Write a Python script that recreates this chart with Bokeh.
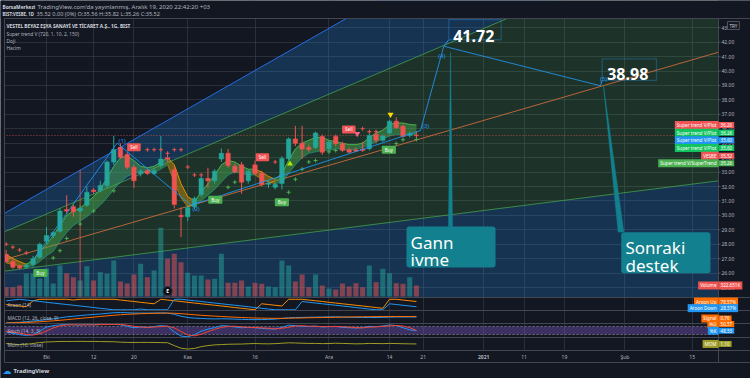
from bokeh.plotting import figure
from bokeh.models import Range1d, FixedTicker, Label, BoxAnnotation, ColumnDataSource
from bokeh.embed import file_html
from bokeh.resources import INLINE

BG = "#131722"
GRID = "#363A45"
BORDER = "#434651"
TXT = "#B2B5BE"
UP = "#26A69A"
DN = "#EF5350"
TEAL = "#12808E"
FONT = "Noto Sans"

# ---------------- data ----------------
bars = list(range(-6, 56))
opens = [27.30, 26.80, 26.50, 26.40, 26.60, 27.10,
         28.20, 28.60, 28.90, 30.40, 30.60, 30.30, 30.70, 31.75, 31.72, 32.07,
         33.69, 34.73, 34.22, 33.34, 32.88, 33.10, 32.90, 33.46, 34.00, 33.16,
         30.00, 29.90, 30.60, 31.44, 32.56, 32.40, 33.90, 34.30, 33.40, 33.50,
         32.40, 33.50, 32.90, 32.15, 31.95, 32.20, 33.94, 35.30, 35.00, 34.70,
         34.70, 35.47, 34.62, 35.47, 34.97, 34.55, 34.55, 34.60, 34.62, 35.60,
         35.20, 35.70, 36.53, 36.17, 35.54, 35.56]
highs = [27.60, 26.95, 26.60, 26.70, 27.20, 28.10,
         29.20, 28.90, 30.50, 31.40, 30.80, 30.70, 32.00, 31.90, 32.40, 33.80,
         35.50, 35.00, 34.40, 33.50, 33.20, 33.20, 33.30, 35.50, 34.20, 33.40,
         30.56, 30.70, 31.30, 32.70, 33.30, 33.20, 34.64, 34.60, 33.60, 33.70,
         33.20, 33.80, 33.10, 32.40, 32.30, 34.10, 35.40, 36.20, 36.20, 34.90,
         35.80, 35.60, 35.20, 35.60, 35.10, 34.70, 34.70, 35.10, 35.70, 35.80,
         35.60, 36.60, 36.80, 36.30, 35.80, 35.82]
lows = [26.70, 26.30, 26.25, 26.30, 26.45, 27.00,
        28.00, 28.40, 28.80, 30.10, 29.90, 30.20, 30.60, 31.50, 31.60, 31.90,
        33.50, 33.90, 33.20, 31.90, 32.70, 32.80, 32.80, 33.30, 33.70, 30.47,
        28.50, 29.60, 30.40, 31.30, 31.90, 32.20, 33.70, 33.30, 32.90, 31.50,
        32.20, 32.80, 32.00, 31.90, 31.80, 31.80, 33.80, 34.80, 33.90, 34.40,
        34.60, 34.20, 34.50, 34.80, 34.40, 34.30, 34.40, 34.40, 34.50, 35.00,
        35.10, 35.60, 36.00, 35.40, 35.40, 35.26]
closes = [26.80, 26.40, 26.35, 26.55, 27.00, 28.00,
          28.60, 28.80, 30.30, 30.30, 30.25, 30.50, 31.60, 31.65, 32.07, 33.70,
          34.57, 34.03, 33.34, 32.40, 33.06, 32.90, 33.10, 33.90, 33.90, 30.75,
          29.90, 30.54, 31.17, 32.56, 32.40, 33.06, 34.30, 33.46, 33.00, 32.30,
          33.06, 32.90, 32.14, 32.25, 32.14, 33.94, 35.30, 34.99, 34.60, 34.57,
          35.70, 34.38, 35.08, 34.97, 34.50, 34.38, 34.45, 34.50, 35.54, 35.20,
          35.50, 36.53, 36.07, 35.47, 35.66, 35.52]
volumes_k = [272, 272, 322, 674, 674, 527,
             820, 381, 908, 683, 565, 469, 888, 469, 712, 665,
             1055, 440, 381, 645, 958, 565, 762, 2013, 1105, 1251,
             1005, 694, 615, 615, 498, 519, 1251, 401, 401, 469,
             293, 401, 372, 293, 272, 1055, 908, 440, 645, 272,
             645, 322, 234, 205, 381, 293, 390, 272, 908, 419,
             812, 683, 390, 372, 565, 322.651]

# Super trend ribbon (upper / lower edge)
st_hi = [27.3, 27.0, 26.8, 26.6, 26.9, 27.5,
         28.0, 28.6, 29.3, 30.0, 30.3, 30.5, 30.9, 31.3, 31.8, 32.6,
         33.4, 34.0, 34.1, 33.8, 33.4, 33.3, 33.4, 33.7, 34.0, 33.5,
         32.2, 31.3, 31.0, 31.6, 32.2, 32.8, 33.5, 33.8, 33.7, 33.4,
         33.2, 33.2, 33.0, 32.7, 32.5, 32.9, 33.8, 34.6, 35.0, 35.2,
         35.4, 35.4, 35.2, 35.1, 35.0, 34.9, 34.9, 35.0, 35.4, 35.7,
         35.9, 36.3, 36.4, 36.4, 36.3, 36.26]
st_lo = [26.7, 26.6, 26.5, 26.45, 26.5, 26.8,
         27.2, 27.5, 28.2, 28.8, 29.3, 29.6, 29.9, 30.3, 30.7, 31.2,
         31.8, 32.3, 32.7, 32.9, 33.0, 33.0, 33.0, 33.2, 33.5, 32.3,
         31.2, 30.6, 30.7, 31.0, 31.4, 31.8, 32.3, 32.8, 33.0, 32.9,
         32.8, 32.8, 32.5, 32.3, 32.2, 32.3, 32.9, 33.5, 34.0, 34.3,
         34.4, 34.5, 34.5, 34.6, 34.6, 34.5, 34.6, 34.7, 34.9, 35.1,
         35.3, 35.5, 35.6, 35.6, 35.6, 35.60]
bull_segments = [(-3, 18), (22, 31), (34, 55)]
bear_segments = [(-6, -3), (18, 22), (31, 34)]

plus_red_x = [-6, -5, -4, -3, 15, 16, 17, 18, 19, 20, 21, 22, 23, 34, 47, 48, 49]
plus_red_y = [28.0, 27.8, 27.6, 27.4, 34.55, 34.55, 34.55, 34.3, 34.55, 34.55,
              33.35, 32.8, 32.8, 33.7, 36.0, 35.8, 35.8]
plus_grn_x = [1, 2, 3, 5, 7, 10, 27, 28, 36, 37, 38, 39, 40, 42, 43, 52, 53, 55]
plus_grn_y = [27.05, 27.55, 28.4, 29.4, 30.3, 31.7, 31.95, 32.3, 31.6, 32.5,
              33.2, 33.7, 33.8, 34.4, 34.5, 34.97, 35.24, 35.26]
buy_x = [-0.9, 25.1, 35.0, 50.9]
buy_y = [26.0, 31.09, 30.91, 34.54]
sell_x = [13.0, 32.1, 44.95]
sell_y = [34.72, 34.03, 35.95]
tri_up_x, tri_up_y = [36.2], [33.57]
tri_dn_x, tri_dn_y = [51.15, 46.2], [36.99, 35.65]
tri_dn_col = ["#FFD600", "#F06292"]

# Gann fan (two points per line)
fan_x = [-7.0, 100.0]
fan_blue = [29.94, 58.38]
fan_green_hi = [28.71, 49.87]
fan_orange = [26.83, 41.32]
fan_green_lo = [26.09, 32.40]

# Elliott wave
ew_x = [-2, 10.5, 21.5, 55.6, 59.07, 82.37]
ew_y = [26.9, 35.0, 30.7, 35.88, 41.72, 38.98]
ew_lbl = ["", "(1)", "(2)", "(3)", "(4)", "(5)"]
ew_off = [(0, 0), (5, 2), (5, -4), (5, 5), (-2, -10), (3, 7)]

# vertical drawing line
vline_x, vline_y0 = 5, 33.16

# indicators
aroon_up = [50, 43, 36, 29, 86, 100,
            100, 100, 100, 100, 93, 100, 100, 100, 100, 100,
            100, 93, 86, 79, 71, 64, 57, 100, 93, 86,
            79, 71, 64, 57, 50, 43, 36, 29, 21, 14,
            7, 0, 57, 50, 43, 36, 100, 100, 100, 93,
            86, 79, 71, 64, 57, 50, 43, 36, 29, 21,
            14, 100, 100, 93, 86, 78.57]
aroon_dn = [86, 93, 100, 93, 86, 79,
            71, 64, 57, 50, 43, 36, 29, 21, 14, 7,
            0, 0, 0, 0, 7, 0, 0, 0, 0, 100,
            100, 93, 86, 79, 71, 64, 57, 50, 43, 36,
            29, 21, 14, 7, 0, 0, 0, 0, 79, 71,
            64, 57, 50, 43, 36, 29, 21, 14, 7, 0,
            0, 57, 50, 43, 36, 28.57]
macd = [-0.25, -0.2, -0.15, -0.05, 0.05, 0.15,
        0.27, 0.4, 0.55, 0.7, 0.8, 0.9, 1.0, 1.08, 1.15, 1.25,
        1.35, 1.38, 1.35, 1.3, 1.3, 1.3, 1.3, 1.32, 1.3, 1.1,
        0.8, 0.6, 0.5, 0.45, 0.4, 0.38, 0.4, 0.38, 0.35, 0.3,
        0.28, 0.27, 0.28, 0.3, 0.35, 0.45, 0.55, 0.6, 0.62, 0.64,
        0.66, 0.68, 0.7, 0.7, 0.68, 0.65, 0.62, 0.6, 0.6, 0.6,
        0.62, 0.66, 0.68, 0.68, 0.68, 0.68]
signal = [-0.25, -0.23, -0.2, -0.17, -0.12, -0.07,
          0.0, 0.08, 0.16, 0.26, 0.36, 0.46, 0.56, 0.66, 0.76, 0.86,
          0.95, 1.04, 1.1, 1.15, 1.2, 1.23, 1.26, 1.28, 1.29, 1.27,
          1.2, 1.12, 1.03, 0.95, 0.88, 0.82, 0.76, 0.7, 0.65, 0.6,
          0.56, 0.52, 0.5, 0.48, 0.47, 0.47, 0.49, 0.51, 0.53, 0.56,
          0.58, 0.6, 0.62, 0.64, 0.66, 0.68, 0.7, 0.72, 0.73, 0.74,
          0.75, 0.75, 0.76, 0.76, 0.76, 0.76]
stoch_k = [40, 30, 20, 15, 20, 45,
           75, 85, 90, 92, 90, 88, 92, 90, 93, 95,
           95, 90, 80, 70, 75, 72, 78, 85, 80, 40,
           10, 5, 20, 45, 60, 70, 85, 82, 75, 70,
           72, 70, 65, 62, 60, 72, 88, 85, 80, 78,
           82, 75, 78, 80, 72, 70, 68, 70, 80, 78,
           82, 90, 85, 70, 55, 48.53]
stoch_d = [45, 38, 30, 22, 18, 27,
           47, 68, 83, 89, 91, 90, 90, 90, 92, 93,
           94, 93, 88, 80, 75, 72, 75, 78, 81, 68,
           43, 18, 12, 23, 42, 58, 72, 79, 81, 76,
           72, 71, 69, 66, 62, 66, 73, 82, 84, 81,
           80, 78, 78, 78, 77, 74, 70, 69, 73, 76,
           80, 83, 86, 82, 70, 50.57]
mom = [1.5, 1.0, 0.5, 0.8, 1.5, 2.5,
       3.0, 3.2, 3.5, 3.5, 3.5, 3.6, 3.5, 3.5, 3.4, 3.3,
       3.2, 2.8, 2.6, 2.5, 2.6, 2.6, 2.5, 2.4, 2.3, -0.5,
       -3.0, -3.8, -3.2, -1.5, -0.5, 0.2, 0.5, 0.8, 0.9, 1.0,
       1.3, 1.5, 1.3, 1.2, 1.4, 1.8, 2.2, 2.0, 1.8, 1.6,
       1.6, 1.4, 1.5, 1.8, 1.6, 1.4, 1.2, 1.3, 1.6, 1.5,
       1.4, 1.6, 1.5, 1.3, 1.2, 1.10]

tick_bars = [0, 7, 13, 21, 31, 42, 51, 56, 65, 71, 77, 86, 96]
tick_labels = ["Eki", "12", "20", "Kas", "16", "Ara", "14", "21", "2021", "11", "19", "Şub", "15"]
price_ticks = list(range(25, 44))

price_tags = ["Super trend V/Plot", "Super trend V/Plot", "Super trend V/Plot",
              "Super trend V/Plot", "VESBE", "Super trend V/SuperTrend"]
price_tag_vals = [36.26, 36.26, 35.60, 35.60, 35.52, 35.26]
price_tag_cols = ["#F05454", "#11C45E", "#2196F3", "#11C45E", "#F05454", "#4CAF50"]
last_close = 35.52

# ---------------- layout (canvas pixels) ----------------
W, H = 750, 378
X0_PX, PX_PER_BAR = 46.0, 6.726          # calibration of the time scale
CHART_L, CHART_R = 4, 718                 # chart box / price-scale edge
PANES = {  # name: (top px, bottom px, value at top, value at bottom)
    "default": (18, 297, 43.642, 24.308),
    "vol": (18, 296, 8145.4, 0.0),
    "aroon": (297, 310, 117, -7),
    "macd": (310, 323, 1.7, -0.34),
    "stoch": (323, 337, 100, 0),
    "mom": (337, 350, 7.3, -5.2),
}


def bar_at(px):
    return (px - X0_PX) / PX_PER_BAR


def full_range(y_a, y_b, v_a, v_b):
    k = (v_b - v_a) / (y_b - y_a)
    return Range1d(start=v_a + (H - y_a) * k, end=v_a - y_a * k)


p = figure(width=W, height=H, output_backend="svg", toolbar_location=None,
           x_range=Range1d(bar_at(0), bar_at(W)),
           y_range=full_range(*PANES["default"]),
           x_axis_location=None, y_axis_location=None, min_border=0,
           background_fill_color=BG, border_fill_color=BG, outline_line_color=None)
for name, spec in PANES.items():
    if name != "default":
        p.extra_y_ranges[name] = full_range(*spec)
p.extra_x_ranges["px"] = Range1d(0, W)
p.extra_y_ranges["px"] = Range1d(H, 0)

p.xgrid.ticker = FixedTicker(ticks=tick_bars)
p.xgrid.grid_line_color = GRID
p.xgrid.grid_line_alpha = 0.7
p.ygrid.ticker = FixedTicker(ticks=price_ticks)
p.ygrid.grid_line_color = GRID
p.ygrid.grid_line_alpha = 0.7

PANE_BOTTOM = PANES["default"][3]

# Gann fan regions
p.patch(fan_x + fan_x[::-1], fan_blue + fan_green_hi[::-1],
        fill_color="#1E88E5", fill_alpha=0.25, line_color=None)
p.patch(fan_x + fan_x[::-1], fan_green_hi + fan_green_lo[::-1],
        fill_color="#4CAF50", fill_alpha=0.19, line_color=None)
p.patch(fan_x + fan_x[::-1], fan_green_lo + [PANE_BOTTOM, PANE_BOTTOM],
        fill_color="#1E88E5", fill_alpha=0.25, line_color=None)
p.line(fan_x, fan_blue, color="#2979FF", line_width=1, alpha=0.85)
p.line(fan_x, fan_green_hi, color="#4CAF50", line_width=1, alpha=0.7)
p.line(fan_x, fan_green_lo, color="#4CAF50", line_width=1, alpha=0.7)
p.line(fan_x, fan_orange, color="#E0703F", line_width=1, alpha=0.8)

# volume
colors = [UP if c >= o else DN for o, c in zip(opens, closes)]
src = ColumnDataSource(dict(
    x=bars, o=opens, h=highs, l=lows, c=closes,
    top=[max(o, c) for o, c in zip(opens, closes)],
    bot=[min(o, c) for o, c in zip(opens, closes)],
    color=colors, vol=volumes_k))
p.vbar(x="x", top="vol", bottom=0, width=0.75, fill_color="color", fill_alpha=0.5,
       line_color=None, y_range_name="vol", source=src)

# vertical drawing
p.segment(x0=[vline_x], y0=[vline_y0], x1=[vline_x], y1=[PANE_BOTTOM],
          color="#EF5350", line_width=1, alpha=0.8)


# super trend ribbon
def seg(a, b):
    i0, i1 = a - bars[0], b - bars[0] + 1
    return bars[i0:i1], st_hi[i0:i1], st_lo[i0:i1]


for a, b in bull_segments:
    xs, hi, lo = seg(a, b)
    p.varea(x=xs, y1=lo, y2=hi, fill_color="#4CAF50", fill_alpha=0.45)
    p.line(xs, hi, color="#4CAF50", line_width=1)
    p.line(xs, lo, color="#26A69A", line_width=0.8, alpha=0.7)
for a, b in bear_segments:
    xs, hi, lo = seg(a, b)
    p.varea(x=xs, y1=lo, y2=hi, fill_color="#FFB300", fill_alpha=0.35)
    p.line(xs, hi, color="#FFA000", line_width=1, alpha=0.8)
    p.line(xs, lo, color="#FFA000", line_width=0.8, alpha=0.6)

# last price line
p.hspan(y=[last_close], line_color="#EF5350", line_dash="1 2", line_width=1, line_alpha=0.7)

# candles
p.segment(x0="x", y0="l", x1="x", y1="h", color="color", line_width=1, source=src)
p.vbar(x="x", width=0.66, top="top", bottom="bot", fill_color="color",
       line_color="color", line_width=0.5, source=src)

# super trend markers
p.scatter(plus_red_x, plus_red_y, marker="cross", size=4, line_color="#EF5350", line_width=1)
p.scatter(plus_grn_x, plus_grn_y, marker="cross", size=4, line_color="#4CAF50", line_width=1)
p.scatter(tri_up_x, tri_up_y, marker="triangle", size=6, fill_color="#AEEA00", line_color=None)
p.scatter(tri_dn_x, tri_dn_y, marker="inverted_triangle", size=6, fill_color=tri_dn_col,
          line_color=None)
p.scatter([18], [24.75], marker="circle", size=9, fill_color="#0B0E14", line_color="#2A2E39")

# Elliott wave
p.line(ew_x, ew_y, color="#2196F3", line_width=1, alpha=0.85)
p.segment(x0=[59.07, 82.37], y0=[41.72, 38.98], x1=[59.81, 82.62], y1=[42.17, 39.35],
          color="#2196F3", line_width=1)
# callout tails
p.patch([60.07, 59.77, 60.36], [41.29, 29.23, 29.23], fill_color=TEAL, line_color=TEAL,
        line_width=0.5)
p.patch([82.81, 84.99, 85.83], [38.99, 28.84, 28.84], fill_color=TEAL, line_color=TEAL,
        line_width=0.5)

# ---- sub panes ----
p.line(bars, aroon_up, color="#FB8C00", line_width=1, y_range_name="aroon")
p.line(bars, aroon_dn, color="#2196F3", line_width=1, y_range_name="aroon")
p.line(bars, macd, color="#2196F3", line_width=1, y_range_name="macd")
p.line(bars, signal, color="#FF6D00", line_width=1, y_range_name="macd")
p.hstrip(y0=[20], y1=[80], fill_color="#7E57C2", fill_alpha=0.4, line_color=None,
         y_range_name="stoch")
p.hspan(y=[20, 80], line_color="#787B86", line_dash="2 2", line_width=1, line_alpha=0.8,
        y_range_name="stoch")
p.line(bars, stoch_k, color="#2196F3", line_width=1, y_range_name="stoch")
p.line(bars, stoch_d, color="#F44336", line_width=1, y_range_name="stoch")
p.line(bars, mom, color="#9E9D24", line_width=1, y_range_name="mom")

# ---- masks for header, price scale, time scale and left margin ----
p.quad(left=[0, CHART_R, 0, 0], right=[W, W, W, CHART_L], top=[0, 0, 350, 0],
       bottom=[18, H, H, H], fill_color=BG, line_color=None,
       x_range_name="px", y_range_name="px")

# borders
hy = [18, 297, 310, 323, 337, 350, 362]
p.segment(x0=[CHART_L] * len(hy), x1=[W] * len(hy), y0=hy, y1=hy, line_color=BORDER,
          line_width=1, x_range_name="px", y_range_name="px")
p.segment(x0=[CHART_L, CHART_R], x1=[CHART_L, CHART_R], y0=[18, 18], y1=[362, 362],
          line_color=BORDER, line_width=1, x_range_name="px", y_range_name="px")

# price scale ticks + labels
p.segment(x0=[CHART_R] * len(price_ticks), x1=[CHART_R + 2] * len(price_ticks),
          y0=price_ticks, y1=price_ticks, line_color="#50535E", line_width=1,
          x_range_name="px")
for t in price_ticks:
    p.add_layout(Label(x=CHART_R + 3, y=t, x_range_name="px", text=f"{t:.2f}",
                       text_font_size="5px", text_font=FONT, text_color=TXT,
                       text_baseline="middle"))


# ---------------- annotations ----------------
def lbl(x, y, text, size, color=TXT, bold=False, align="left", baseline="middle",
        xr="default", yr="default", font=FONT, **kw):
    p.add_layout(Label(x=x, y=y, x_range_name=xr, y_range_name=yr, text=text,
                       text_font_size=size, text_color=color, text_font=font,
                       text_font_style="bold" if bold else "normal",
                       text_align=align, text_baseline=baseline, **kw))


def px_lbl(x, y, text, size, color=TXT, **kw):
    lbl(x, y, text, size, color, xr="px", yr="px", **kw)


def tag(name, txt, y, color, yr="default", y_offset=0):
    common = dict(x=CHART_R, y=y, x_range_name="px", y_range_name=yr, y_offset=y_offset,
                  text_baseline="middle", text_font_size="4.6px", text_font=FONT,
                  text_color="white", background_fill_color=color,
                  padding=dict(x=2, y=1))
    if name:
        p.add_layout(Label(text=name, text_align="right", **common))
    p.add_layout(Label(text=txt, text_align="left", **common))


for bx, by in zip(buy_x, buy_y):
    lbl(bx, by, "Buy", "4.6px", "white", align="center", background_fill_color="#4CAF50",
        padding=dict(x=3, y=1), border_radius=1)
for sx, sy in zip(sell_x, sell_y):
    lbl(sx, sy, "Sell", "4.6px", "white", align="center", background_fill_color="#F05454",
        padding=dict(x=3, y=1), border_radius=1)
lbl(18, 24.75, "E", "5px", "white", bold=True, align="center")

for x, y, t, (dx, dy) in zip(ew_x, ew_y, ew_lbl, ew_off):
    if t:
        lbl(x, y, t, "6px", "#2196F3", align="center", x_offset=dx, y_offset=dy)

# price callouts
p.add_layout(BoxAnnotation(left=59.81, right=67.6, top=43.57, bottom=42.17,
                           fill_alpha=0, line_color="#2E9BF5", line_width=1.3))
lbl(60.47, 42.46, "41.72", "16px", "white", bold=True, baseline="alphabetic")
p.add_layout(BoxAnnotation(left=82.62, right=90.69, top=40.85, bottom=39.35,
                           fill_alpha=0, line_color="#2E9BF5", line_width=1.3))
lbl(83.36, 39.77, "38.98", "16px", "white", bold=True, baseline="alphabetic")

# text callouts
p.add_layout(BoxAnnotation(left=53.52, right=66.76, top=29.23, bottom=26.39,
                           fill_color=TEAL, fill_alpha=1, line_color=None, border_radius=3))
lbl(54.12, 28.14, "Gann", "17px", "white", baseline="alphabetic")
lbl(54.12, 26.92, "ivme", "17px", "white", baseline="alphabetic")
p.add_layout(BoxAnnotation(left=85.45, right=98.72, top=28.83, bottom=25.99,
                           fill_color=TEAL, fill_alpha=1, line_color=None, border_radius=3))
lbl(86.08, 27.79, "Sonraki", "17px", "white", baseline="alphabetic")
lbl(86.08, 26.53, "destek", "17px", "white", baseline="alphabetic")

# header
px_lbl(2, 6, "BorsaMerkezi", "4.8px", "#D1D4DC", bold=True)
px_lbl(37, 6, "TradingView.com'da yayınlanmış, Aralık 19, 2020 22:42:20 +03", "6px", TXT)
px_lbl(2, 13, "BIST:VESBE, 1D", "4.3px", "#D1D4DC", bold=True)
px_lbl(36, 13, "35.52 0.00 (0%) O:35.56 H:35.82 L:35.26 C:35.52", "5.6px", TXT)
px_lbl(6, 25, "VESTEL BEYAZ EŞYA SANAYİ VE TİCARET A.Ş., 1G, BIST", "4.8px", "#D1D4DC", bold=True)
px_lbl(6, 33, "Super trend V (720, 1, 10, 2, 150)", "4.8px")
px_lbl(6, 40, "Doji", "4.8px")
px_lbl(6, 47, "Hacim", "4.8px")
px_lbl(727, 25, "TRY", "4.5px", "#D1D4DC", background_fill_color=BG,
       border_line_color="#50535E", padding=dict(x=2, y=1))

# price scale tags
for i, (nm, v, col) in enumerate(zip(price_tags, price_tag_vals, price_tag_cols)):
    tag(nm, f"{v:.2f}", price_tag_vals[0], col, y_offset=-7.65 * i)
tag("Volume", "322.651K", volumes_k[-1], "#EF5350", yr="vol")

# sub pane legends + tags
px_lbl(7, 304.5, "Aroon (14)", "4.8px")
px_lbl(7, 317.5, "MACD (12, 26, close, 9)", "4.8px")
px_lbl(7, 330.5, "Stoch (14, 3, 3)", "4.8px")
px_lbl(7, 344, "Mom (10, close)", "4.8px")
tag("Aroon Up", f"{aroon_up[-1]:.2f}%", aroon_up[-1], "#FF6D00", yr="aroon")
tag("Aroon Down", f"{aroon_dn[-1]:.2f}%", aroon_up[-1], "#2196F3", yr="aroon", y_offset=-6.6)
tag("%D", f"{stoch_d[-1]:.2f}", stoch_k[-1], "#FF6D00", yr="stoch", y_offset=6.7)
tag("Signal", f"{signal[-1]:.2f}", signal[-1], "#FF6D00", yr="macd", y_offset=-2)
tag("%K", f"{stoch_k[-1]:.2f}", stoch_k[-1], "#2196F3", yr="stoch")
tag("MOM", f"{mom[-1]:.2f}", mom[-1], "#9E9D24", yr="mom")

# time scale labels
for b, t in zip(tick_bars, tick_labels):
    lbl(b, 356, t, "5px", TXT, align="center", yr="px", bold=(t == "2021"))

# footer
px_lbl(2, 370, "\u2601", "9px", "#2196F3", font="DejaVu Sans")
px_lbl(13, 370, "TradingView", "5.8px", "#D1D4DC", bold=True)

open("out.html", "w").write(file_html(p, INLINE))
